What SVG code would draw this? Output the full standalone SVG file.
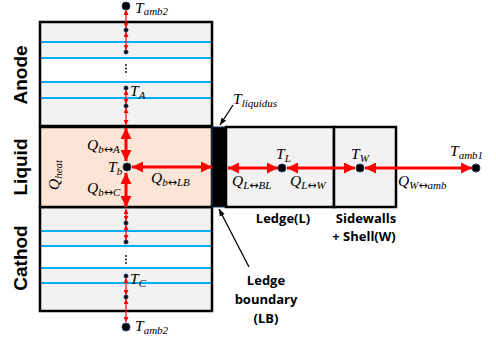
<svg xmlns="http://www.w3.org/2000/svg" width="496" height="340" viewBox="0 0 496 340">
<style>
.box{stroke:#000;stroke-width:2.5}
.blue{stroke:#00b0f0;stroke-width:2}
.big{stroke:#ff0000;stroke-width:3;fill:none;marker-start:url(#bh);marker-end:url(#bh)}
.sm{stroke:#ff0000;stroke-width:1.2;fill:none;marker-start:url(#sh);marker-end:url(#sh)}
.m{font-family:"Liberation Serif",serif;font-style:italic;font-size:15.5px;fill:#000}
.s{font-size:11px}
.ar{font-family:"DejaVu Sans",sans-serif;font-style:normal}
.lbl{font-family:"Open Sans","Liberation Sans",sans-serif;font-weight:bold;font-size:13px;fill:#000;text-anchor:middle}
.side{font-family:"Liberation Sans",sans-serif;font-weight:bold;font-size:19px;fill:#000;text-anchor:middle}
.dot{fill:#000;stroke:#1f3864;stroke-width:1}
.ptr{stroke:#000;stroke-width:1.3;fill:none;marker-end:url(#ah)}
</style>
<defs>
<marker id="bh" viewBox="0 0 10 10" refX="10" refY="5" markerWidth="11" markerHeight="11" markerUnits="userSpaceOnUse" orient="auto-start-reverse"><path d="M0,0 L10,5 L0,10 z" fill="#ff0000"/></marker>
<marker id="sh" viewBox="0 0 10 10" refX="10" refY="5" markerWidth="5" markerHeight="5" markerUnits="userSpaceOnUse" orient="auto-start-reverse"><path d="M0,0 L10,5 L0,10 z" fill="#ff0000"/></marker>
<marker id="ah" viewBox="0 0 10 10" refX="10" refY="5" markerWidth="7" markerHeight="7" markerUnits="userSpaceOnUse" orient="auto"><path d="M0,1 L10,5 L0,9 z" fill="#000"/></marker>
</defs>

<g id="anode">
<rect x="40" y="22" width="172" height="104" fill="#f2f2f2"/>
<rect x="40" y="58" width="172" height="24" fill="#ffffff"/>
<line class="blue" x1="40" y1="42" x2="211" y2="42"/>
<line class="blue" x1="40" y1="58" x2="211" y2="58"/>
<line class="blue" x1="40" y1="82" x2="211" y2="82"/>
<line class="blue" x1="40" y1="98" x2="211" y2="98"/>
<rect class="box" x="40" y="22" width="172" height="104" fill="none"/>
</g>

<g id="cathode">
<rect x="40" y="207" width="172" height="104" fill="#f2f2f2"/>
<rect x="40" y="246" width="172" height="22" fill="#ffffff"/>
<line class="blue" x1="40" y1="231" x2="211" y2="231"/>
<line class="blue" x1="40" y1="246" x2="211" y2="246"/>
<line class="blue" x1="40" y1="268" x2="211" y2="268"/>
<line class="blue" x1="40" y1="283" x2="211" y2="283"/>
<rect class="box" x="40" y="207" width="172" height="104" fill="none"/>
</g>

<g id="liquid">
<rect class="box" x="40" y="127" width="172" height="80" fill="#fbe5d6"/>
</g>

<g id="ledge-boundary">
<rect x="212" y="127" width="14" height="80" fill="#000" stroke="#1f3864" stroke-width="1"/>
</g>

<g id="ledge">
<rect class="box" x="226" y="127" width="108" height="80" fill="#f2f2f2"/>
</g>

<g id="sidewalls">
<rect class="box" x="334" y="127" width="62" height="80" fill="#f2f2f2"/>
</g>

<g id="connectors">
<line class="sm" x1="126" y1="10" x2="126" y2="28"/>
<line class="sm" x1="126" y1="32" x2="126" y2="50"/>
<line class="sm" x1="126" y1="90" x2="126" y2="104"/>
<line class="sm" x1="126" y1="108" x2="126" y2="125"/>
<line class="big" x1="126" y1="128" x2="126" y2="161"/>
<line class="big" x1="126" y1="173" x2="126" y2="207"/>
<line class="big" x1="132" y1="167" x2="212" y2="167"/>
<line class="sm" x1="126" y1="209" x2="126" y2="221"/>
<line class="sm" x1="126" y1="225" x2="126" y2="240"/>
<line class="sm" x1="126" y1="278" x2="126" y2="295"/>
<line class="sm" x1="126" y1="299" x2="126" y2="322"/>
<line class="big" x1="228" y1="168" x2="278" y2="168"/>
<line class="big" x1="287" y1="168" x2="355" y2="168"/>
<line class="big" x1="365" y1="168" x2="472" y2="168"/>
<line class="ptr" x1="233" y1="105" x2="220" y2="125"/>
<line class="ptr" x1="249" y1="267" x2="219" y2="209"/>
</g>

<g id="nodes">
<circle class="dot" cx="126" cy="6" r="4"/>
<circle class="dot" cx="126" cy="30" r="2"/>
<circle class="dot" cx="126" cy="52" r="2"/>
<circle cx="126" cy="65" r="0.9" fill="#000"/>
<circle cx="126" cy="68.5" r="0.9" fill="#000"/>
<circle cx="126" cy="72" r="0.9" fill="#000"/>
<circle class="dot" cx="126" cy="88" r="2"/>
<circle class="dot" cx="126" cy="106" r="2"/>
<circle class="dot" cx="127" cy="167" r="4"/>
<circle class="dot" cx="126" cy="223" r="2"/>
<circle class="dot" cx="126" cy="242" r="2"/>
<circle cx="126" cy="256" r="0.9" fill="#000"/>
<circle cx="126" cy="259.5" r="0.9" fill="#000"/>
<circle cx="126" cy="263" r="0.9" fill="#000"/>
<circle class="dot" cx="126" cy="276" r="2"/>
<circle class="dot" cx="126" cy="297" r="2"/>
<circle class="dot" cx="126" cy="327" r="4"/>
<circle class="dot" cx="282" cy="168" r="4"/>
<circle class="dot" cx="360" cy="168" r="4"/>
<circle class="dot" cx="476" cy="168" r="4"/>
</g>

<g id="labels">
<text class="side" transform="translate(27,75) rotate(-90)">Anode</text>
<text class="side" transform="translate(27,167) rotate(-90)">Liquid</text>
<text class="side" transform="translate(27,258) rotate(-90)">Cathod</text>

<text class="m" x="135" y="13">T<tspan class="s" dy="2">amb2</tspan></text>
<text class="m" x="130" y="96">T<tspan class="s" dy="3">A</tspan></text>
<text class="m" x="130" y="284">T<tspan class="s" dy="3">C</tspan></text>
<text class="m" x="135" y="331">T<tspan class="s" dy="3">amb2</tspan></text>
<text class="m" x="233" y="104">T<tspan class="s" dy="3">liquidus</tspan></text>

<text class="m" transform="translate(59,190) rotate(-90)">Q<tspan class="s" dy="3">heat</tspan></text>
<text class="m" x="87" y="150">Q<tspan class="s" dy="3">b<tspan class="ar">↔</tspan>A</tspan></text>
<text class="m" x="108" y="172">T<tspan class="s" dy="3">b</tspan></text>
<text class="m" x="87" y="193">Q<tspan class="s" dy="3">b<tspan class="ar">↔</tspan>C</tspan></text>
<text class="m" x="151" y="183">Q<tspan class="s" dy="3">b<tspan class="ar">↔</tspan>LB</tspan></text>

<text class="m" x="276" y="159">T<tspan class="s" dy="3">L</tspan></text>
<text class="m" x="351" y="159">T<tspan class="s" dy="3">W</tspan></text>
<text class="m" x="450" y="156">T<tspan class="s" dy="3">amb1</tspan></text>
<text class="m" x="232" y="186">Q<tspan class="s" dy="3">L<tspan class="ar">↔</tspan>BL</tspan></text>
<text class="m" x="290" y="186">Q<tspan class="s" dy="3">L<tspan class="ar">↔</tspan>W</tspan></text>
<text class="m" x="398" y="186">Q<tspan class="s" dy="3">W<tspan class="ar">↔</tspan>amb</tspan></text>

<text class="lbl" x="283" y="223">Ledge(L)</text>
<text class="lbl" x="366" y="223">Sidewalls</text>
<text class="lbl" x="364" y="241">+ Shell(W)</text>
<text class="lbl" x="266" y="285">Ledge</text>
<text class="lbl" x="266" y="304">boundary</text>
<text class="lbl" x="266" y="323">(LB)</text>
</g>
</svg>
